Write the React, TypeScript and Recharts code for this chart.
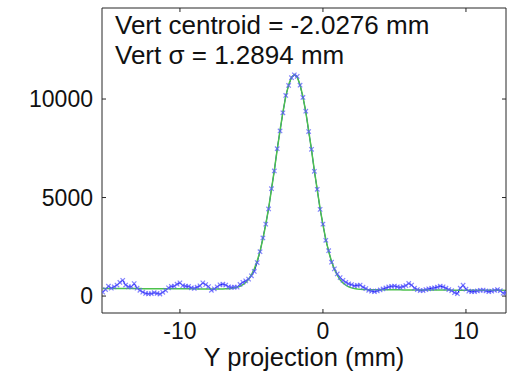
import { ComposedChart, Line, XAxis, YAxis } from "recharts";

// beam profile: vertical projection, measured counts and gaussian fit
const positionMm = [
  -15.4, -15.2, -15.0, -14.8, -14.6, -14.4, -14.2, -14.0, -13.8, -13.6,
  -13.4, -13.2, -13.0, -12.8, -12.6, -12.4, -12.2, -12.0, -11.8, -11.6,
  -11.4, -11.2, -11.0, -10.8, -10.6, -10.4, -10.2, -10.0, -9.8, -9.6,
  -9.4, -9.2, -9.0, -8.8, -8.6, -8.4, -8.2, -8.0, -7.8, -7.6,
  -7.4, -7.2, -7.0, -6.8, -6.6, -6.4, -6.2, -6.0, -5.8, -5.6,
  -5.4, -5.2, -5.0, -4.8, -4.6, -4.4, -4.2, -4.0, -3.8, -3.6,
  -3.4, -3.2, -3.0, -2.8, -2.6, -2.4, -2.2, -2.0, -1.8, -1.6,
  -1.4, -1.2, -1.0, -0.8, -0.6, -0.4, -0.2, 0.0, 0.2, 0.4,
  0.6, 0.8, 1.0, 1.2, 1.4, 1.6, 1.8, 2.0, 2.2, 2.4,
  2.6, 2.8, 3.0, 3.2, 3.4, 3.6, 3.8, 4.0, 4.2, 4.4,
  4.6, 4.8, 5.0, 5.2, 5.4, 5.6, 5.8, 6.0, 6.2, 6.4,
  6.6, 6.8, 7.0, 7.2, 7.4, 7.6, 7.8, 8.0, 8.2, 8.4,
  8.6, 8.8, 9.0, 9.2, 9.4, 9.6, 9.8, 10.0, 10.2, 10.4,
  10.6, 10.8, 11.0, 11.2, 11.4, 11.6, 11.8, 12.0, 12.2, 12.4,
  12.6, 12.8,
];

const counts = [
  200, 330, 500, 400, 470, 560, 690, 800, 560, 470,
  470, 630, 400, 290, 200, 130, 110, 120, 170, 130,
  100, 190, 290, 420, 490, 500, 600, 670, 530, 500,
  490, 420, 390, 450, 520, 670, 580, 480, 290, 370,
  470, 570, 600, 560, 470, 440, 450, 450, 590, 700,
  770, 860, 1030, 1250, 1700, 2250, 2950, 3650, 4420, 5450,
  6350, 7480, 8380, 9300, 10180, 10690, 11080, 11230, 11150, 10700,
  10080, 9380, 8350, 7450, 6330, 5420, 4400, 3650, 2830, 2300,
  1720, 1380, 1120, 940, 800, 700, 620, 580, 520, 540,
  560, 450, 380, 290, 250, 220, 260, 310, 360, 410,
  460, 490, 510, 470, 440, 480, 530, 640, 560, 400,
  330, 280, 280, 330, 370, 390, 420, 450, 500, 470,
  400, 330, 270, 170, 120, 400, 550, 350, 250, 220,
  230, 260, 290, 300, 260, 220, 250, 290, 330, 270,
  150, 170,
];

const fitCounts = [
  387, 386, 386, 385, 384, 383, 383, 382, 381, 381,
  380, 379, 379, 378, 377, 376, 376, 375, 374, 374,
  373, 372, 372, 371, 370, 369, 369, 368, 367, 367,
  366, 365, 365, 364, 363, 362, 362, 361, 360, 360,
  359, 358, 364, 368, 375, 387, 409, 443, 496, 575,
  690, 853, 1080, 1383, 1779, 2278, 2894, 3624, 4463, 5397,
  6393, 7416, 8414, 9336, 10125, 10730, 11111, 11240, 11109, 10727,
  10121, 9330, 8407, 7408, 6383, 5385, 4451, 3610, 2878, 2262,
  1761, 1363, 1059, 831, 666, 549, 470, 415, 379, 356,
  343, 334, 329, 325, 322, 321, 320, 319, 319, 318,
  317, 316, 316, 315, 314, 313, 313, 312, 311, 310,
  310, 309, 308, 308, 307, 306, 306, 305, 304, 303,
  303, 302, 301, 301, 300, 299, 299, 298, 297, 296,
  296, 295, 294, 294, 293, 292, 292, 291, 290, 289,
  289, 288,
];

const xTicks = [-10, 0, 10];
const yTicks = [0, 5000, 10000];
const xDomain: [number, number] = [-15.45, 12.8];
const yDomain: [number, number] = [-860, 14620];

const data = positionMm.map((x, i) => ({ x, counts: counts[i], fit: fitCounts[i] }));

const FONT = "'Liberation Sans', Arial, Helvetica, sans-serif";
const AXIS = "#262626";

const Cross = (props: any) => {
  const { cx, cy, index } = props;
  if (cx == null || cy == null) return <g key={index} />;
  const r = 2.2;
  return (
    <path
      key={index}
      d={`M${cx - r},${cy - r}L${cx + r},${cy + r}M${cx - r},${cy + r}L${cx + r},${cy - r}`}
      stroke="#5a5aff"
      strokeWidth={1.2}
      strokeOpacity={0.75}
      fill="none"
    />
  );
};

const NoLabel = () => <g />;

export default function App() {
  return (
    <div style={{ position: "relative", width: 510, height: 372, background: "#fff" }}>
      <style>{"body{margin:0}"}</style>
      <ComposedChart
        width={510}
        height={372}
        data={data}
        margin={{ top: 7, right: 3, bottom: 0, left: 0 }}
      >
        <XAxis
          xAxisId="bottom"
          dataKey="x"
          type="number"
          domain={xDomain}
          ticks={xTicks}
          allowDataOverflow
          height={59}
          stroke={AXIS}
          tickSize={-4}
          tickMargin={14}
          tick={{ fill: "#111", fontSize: 23, fontFamily: FONT }}
          label={{
            value: "Y projection (mm)",
            position: "insideBottom",
            offset: 6,
            fill: "#111",
            fontSize: 25.5,
            fontFamily: FONT,
          }}
        />
        <XAxis
          xAxisId="top"
          orientation="top"
          dataKey="x"
          type="number"
          domain={xDomain}
          ticks={xTicks}
          allowDataOverflow
          height={1}
          stroke={AXIS}
          tickSize={-4}
          tick={NoLabel}
        />
        <YAxis
          yAxisId="left"
          type="number"
          domain={yDomain}
          ticks={yTicks}
          allowDataOverflow
          width={102}
          stroke={AXIS}
          tickSize={-4}
          tickMargin={13}
          tick={{ fill: "#111", fontSize: 23, fontFamily: FONT }}
        />
        <YAxis
          yAxisId="right"
          orientation="right"
          type="number"
          domain={yDomain}
          ticks={yTicks}
          allowDataOverflow
          width={1}
          stroke={AXIS}
          tickSize={-4}
          tick={NoLabel}
        />
        <Line
          xAxisId="bottom"
          yAxisId="left"
          dataKey="counts"
          type="linear"
          stroke="#0000e6"
          strokeWidth={1}
          dot={Cross}
          activeDot={false}
          isAnimationActive={false}
        />
        <Line
          xAxisId="bottom"
          yAxisId="left"
          dataKey="fit"
          type="linear"
          stroke="#4cc24c"
          strokeWidth={1.5}
          dot={false}
          activeDot={false}
          isAnimationActive={false}
        />
      </ComposedChart>
      <div
        style={{
          position: "absolute",
          left: 115,
          top: 10,
          fontFamily: FONT,
          fontSize: 26,
          lineHeight: "30px",
          color: "#111",
          whiteSpace: "nowrap",
        }}
      >
        <div>Vert centroid = -2.0276 mm</div>
        <div>Vert σ = 1.2894 mm</div>
      </div>
    </div>
  );
}
